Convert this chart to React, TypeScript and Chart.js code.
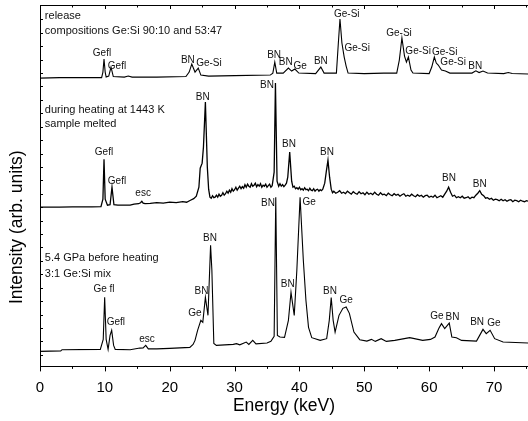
import React, { useEffect, useRef } from 'react';
import { Chart, registerables } from 'chart.js';

Chart.register(...registerables);

const FONT = '"Liberation Sans", Arial, Helvetica, sans-serif';

const X_MIN = 0;
const X_MAX = 75.24;
const Y_MIN = 0;
const Y_MAX = 361;

const OFFSET_BOTTOM = 15;
const OFFSET_MIDDLE = 159;
const OFFSET_TOP = 288;

const xTickValues = [0, 5, 10, 15, 20, 25, 30, 35, 40, 45, 50, 55, 60, 65, 70, 75];
const yTickStep = 13.4;
const yTitleText = 'Intensity (arb. units)';
const yTitleLevel = 139;

// Bottom spectrum: 5.4 GPa before heating, 3:1 Ge:Si mix
const bottomEnergy = [0, 3.2, 3.4, 9.3, 9.75, 9.97, 10.2, 10.5, 10.8, 11.05, 11.35, 11.6, 13.9, 15.4, 15.9, 16.3, 16.7, 18, 20, 23.1, 23.6, 23.9, 24.3, 24.8, 25.1, 25.5, 25.9, 26.3, 26.5, 26.8, 27.2, 29.8, 30.3, 30.8, 31.8, 32.2, 32.8, 33.3, 35, 35.6, 36.1, 36.35, 36.6, 37, 37.7, 38.3, 38.7, 39.2, 39.6, 40.1, 40.6, 41.0, 41.4, 41.9, 43.2, 44.2, 44.6, 44.9, 45.2, 45.5, 46.1, 46.7, 47.2, 47.7, 48.4, 49.3, 50.4, 51.1, 51.7, 52.6, 53.4, 54.7, 57, 59, 60.2, 60.9, 61.5, 61.9, 62.4, 63.1, 63.5, 64.2, 65, 67.3, 68.3, 68.8, 69.4, 70.1, 71.4, 75.3];
const bottomIntensity = [0, 0.5, 1.7, 2, 12, 54, 12, 2, 16, 21, 6, 2, 1.7, 3.3, 3.5, 6, 2.5, 2.5, 3, 4, 7, 11, 21, 31, 29, 54, 36, 106, 81, 8, 6, 7, 7.7, 6.5, 9.3, 7, 11, 7.5, 8.3, 10, 15, 154, 16, 14.3, 14, 31, 59, 36, 81, 154, 91, 51, 24, 13.7, 11, 12.7, 31, 53.7, 31, 19.3, 36, 43, 44.3, 38, 19.3, 11.7, 10.3, 12, 10, 12.7, 10, 11, 13.7, 11, 12, 14.3, 23, 27.7, 22.7, 28.3, 14.3, 13.7, 11, 10.3, 22, 17.7, 21, 12.7, 9.3, 8.3];

// Middle spectrum: during heating at 1443 K, sample melted
const middleEnergy = [0, 3, 5, 8, 9.4, 9.7, 9.87, 10.05, 10.4, 10.8, 11.1, 11.4, 12, 13.9, 14.5, 15.2, 15.5, 15.7, 15.9, 16.2, 17, 18, 19, 20, 21, 22, 22.6, 23.2, 23.7, 24.1, 24.5, 24.7, 25.0, 25.2, 25.5, 25.8, 26.0, 26.2,
  26.4, 26.6, 26.8, 27.0, 27.2, 27.4, 27.6, 27.8, 28.0, 28.2, 28.4, 28.6, 28.8, 29.0, 29.2, 29.4, 29.6, 29.8, 30.0, 30.2, 30.4, 30.6, 30.8, 31.0, 31.2, 31.4, 31.6, 31.8, 32.0, 32.2, 32.4, 32.6, 32.8, 33.0, 33.2, 33.4, 33.6, 33.8, 34.0, 34.2, 34.4, 34.6, 34.8, 35.0, 35.2, 35.4, 35.6, 35.8,
  36.1, 36.3, 36.55, 36.8, 37.0, 37.2, 37.4, 37.6, 37.8, 38.0, 38.2, 38.5, 38.8, 39.0, 39.2, 39.4, 39.6, 39.8, 40.0, 40.2, 40.4, 40.6, 40.8, 41.0, 41.2, 41.4, 41.6, 41.8, 42.0, 42.2, 42.4, 42.6, 42.8, 43.0, 43.2, 43.4, 43.6, 43.9, 44.15, 44.4, 44.65, 44.9, 45.1,
  45.3, 45.6, 45.9, 46.2, 46.5, 46.8, 47.1, 47.4, 47.7, 48.0, 48.3, 48.6, 48.9, 49.2, 49.5, 49.8, 50.1, 50.4, 50.7, 51.0, 51.3, 51.6, 51.9, 52.2, 52.5, 52.8, 53.1, 53.4, 53.7, 54.0, 54.3, 54.6, 54.9, 55.2, 55.5, 55.8, 56.1, 56.4, 56.7, 57.0, 57.3, 57.6, 57.9, 58.2, 58.5, 58.8, 59.1, 59.4, 59.7, 60.0, 60.3, 60.6, 60.9, 61.2, 61.5, 61.8, 62.1, 62.4, 62.7, 63.0, 63.3, 63.6, 63.9, 64.2, 64.5, 64.8, 65.1, 65.4, 65.7, 66.0, 66.3, 66.6, 66.9, 67.2, 67.5, 67.8, 68.1, 68.4, 68.7, 69.0, 69.3, 69.6, 69.9, 70.2, 70.5, 70.8, 71.1, 71.4, 71.7, 72.0, 72.3, 72.6, 72.9, 73.2, 73.5, 73.8, 74.1, 74.4, 74.7, 75.0, 75.3];
const middleIntensity = [0, 0, 0.3, 0.3, 0.5, 8, 48, 8, 2, 2.5, 20, 2.5, 2, 2, 3, 3.5, 4.5, 6, 4, 3.5, 3.8, 4.5, 4, 5, 4.5, 5.5, 5, 7, 8.5, 11, 20, 39, 44, 60, 105, 40, 18, 10,
  9, 11.5, 9.5, 10, 12, 10, 13, 11, 12, 14.5, 12, 13.5, 16, 14, 17, 15, 18.5, 16, 17.5, 20, 17, 19, 21, 18.5, 20.5, 19, 22.5, 20, 23, 21, 20, 23.5, 21, 22, 24, 20.5, 22.5, 21, 23.5, 20, 22, 21, 23, 20, 21.5, 23, 20, 21.5,
  35, 124, 26, 21, 23.5, 21, 22.5, 20.5, 22, 24, 30, 55, 26, 20, 21, 18.5, 19.5, 18, 20, 17.5, 18.5, 17, 19.5, 17.5, 18, 16.5, 19, 17, 16.5, 18.5, 16, 17.5, 18, 16, 17.5, 16.5, 18, 24, 36, 47, 30, 18, 14.5,
  16, 14, 15, 16.5, 14, 15, 13.5, 16, 14.5, 13, 15.5, 14, 13, 15.5, 13.5, 14.5, 12.5, 15, 13, 14, 12.5, 15, 13, 12, 14.5, 12.5, 13, 11.5, 14, 12.5, 11.5, 13.5, 12, 13, 11, 12.5, 13.5, 11, 12, 11, 13, 11.5, 10.5, 12.5, 11, 12, 10, 11.5, 12, 10, 11, 10, 12, 9.5, 10.5, 11.5, 10, 13, 16, 20, 15, 11, 12, 9.5, 10.5, 9.5, 11, 9, 9.5, 10.5, 8.5, 10, 9.5, 12, 14, 16.5, 13, 11.5, 9, 9.5, 8, 9, 7, 8, 7.5, 6.5, 8, 6.5, 7.5, 6, 7, 7.5, 5.5, 7, 6.5, 5.5, 7, 6, 5.5, 6.5, 6];

// Top spectrum: release, compositions Ge:Si 90:10 and 53:47
const topEnergy = [0, 3, 9.5, 9.7, 9.87, 10.05, 10.2, 10.6, 10.95, 11.3, 13, 13.6, 14.2, 18, 22.5, 23.0, 23.4, 23.9, 24.4, 24.8, 26, 30, 35.5, 35.9, 36.2, 36.5, 37.5, 38.3, 38.8, 39.3, 39.9, 42.5, 43.3, 43.8, 45.7, 46.0, 46.25, 46.55, 46.9, 47.2, 47.5, 50, 53, 55, 55.4, 55.8, 56.2, 56.5, 56.8, 57.2, 57.5, 60, 60.4, 60.8, 61.1, 61.4, 61.9, 62.5, 63.2, 66.6, 67.2, 67.7, 68.3, 69, 71.5, 72.2, 72.8, 75.3];
const topIntensity = [0, 0.5, 0.5, 6, 19, 6, 1, 2, 11, 1.5, 1, 2, 1, 1, 1.5, 6, 14, 6, 10, 3, 2, 2.5, 3, 5, 16, 5, 5, 10, 7, 9, 5, 4.5, 11, 5, 5, 35, 59, 35, 21, 12, 5, 4.5, 5, 5, 18, 40, 22, 16, 21, 8, 5, 4.5, 11, 21, 15, 13, 8, 7, 5, 5, 7.3, 5.5, 7, 5, 4.5, 5.5, 4.5, 4];

// Peak annotations (energy in keV, level in the stacked intensity units)
const peakLabels = ['Gefl', 'Gefl', 'BN', 'Ge-Si', 'BN', 'BN', 'Ge', 'BN', 'Ge-Si', 'Ge-Si', 'Ge-Si', 'Ge-Si', 'Ge-Si', 'Ge-Si', 'BN',
  'Gefl', 'Gefl', 'esc', 'BN', 'BN', 'BN', 'BN', 'BN', 'BN',
  'Ge fl', 'Gefl', 'esc', 'Ge', 'BN', 'BN', 'BN', 'BN', 'Ge', 'BN', 'Ge', 'Ge', 'BN', 'BN', 'Ge'];
const peakLabelEnergy = [9.56, 11.87, 22.8, 26.05, 36.1, 37.9, 40.1, 43.3, 47.3, 48.9, 55.35, 58.3, 62.4, 63.7, 67.1,
  9.87, 11.87, 15.9, 25.1, 35.0, 38.4, 44.25, 63.06, 67.8,
  9.87, 11.7, 16.5, 23.9, 24.9, 26.2, 35.15, 38.2, 41.5, 44.7, 47.2, 61.2, 63.6, 67.4, 70.0];
const peakLabelLevel = [313, 300, 306, 303, 311, 304, 300, 305, 352, 318, 333, 315, 314, 304, 300,
  214, 185, 173, 269, 281, 222, 214, 188, 182,
  77, 44, 27, 53, 75, 128, 163, 82, 164, 75, 66, 50, 49, 44, 43];

const noteLines = ['release', 'compositions Ge:Si 90:10 and 53:47', 'during heating at 1443 K', 'sample melted', '5.4 GPa before heating', '3:1 Ge:Si mix'];
const noteLevel = [350, 335, 256, 242, 108, 92];
const noteEnergy = 0.75;

function stack(energy: number[], intensity: number[], offset: number) {
  return energy.map((e, i) => ({ x: e, y: intensity[i] + offset }));
}

const decorations = {
  id: 'decorations',
  afterDatasetsDraw(chart: any) {
    const { ctx, chartArea, scales } = chart;
    const xs = scales.x;
    const ys = scales.y;
    ctx.save();
    ctx.strokeStyle = '#000';
    ctx.lineWidth = 1;
    // top frame
    ctx.beginPath();
    ctx.moveTo(chartArea.left, Math.round(chartArea.top) + 0.5);
    ctx.lineTo(chartArea.right, Math.round(chartArea.top) + 0.5);
    ctx.stroke();
    // x ticks: outward at bottom, inward at top
    for (const t of xTickValues) {
      const px = Math.round(xs.getPixelForValue(t)) + 0.5;
      const major = t % 10 === 0;
      ctx.beginPath();
      ctx.moveTo(px, chartArea.bottom);
      ctx.lineTo(px, chartArea.bottom + (major ? 5 : 2.5));
      ctx.moveTo(px, chartArea.top);
      ctx.lineTo(px, chartArea.top + (major ? 4 : 2.5));
      ctx.stroke();
    }
    // y ticks inward
    for (let k = -20; k <= 20; k++) {
      const v = OFFSET_MIDDLE + k * yTickStep;
      if (v < Y_MIN + 2 || v > Y_MAX - 2) continue;
      const py = Math.round(ys.getPixelForValue(v)) + 0.5;
      ctx.beginPath();
      ctx.moveTo(chartArea.left, py);
      ctx.lineTo(chartArea.left + 3, py);
      ctx.stroke();
    }
    // y axis title (placed as in the reference, below the axis centre)
    ctx.fillStyle = '#000';
    ctx.font = `17.5px ${FONT}`;
    ctx.textAlign = 'center';
    ctx.textBaseline = 'middle';
    ctx.save();
    ctx.translate(17, ys.getPixelForValue(yTitleLevel));
    ctx.rotate(-Math.PI / 2);
    ctx.fillText(yTitleText, 0, 0);
    ctx.restore();
    // peak labels
    ctx.fillStyle = '#111';
    ctx.font = `10px ${FONT}`;
    ctx.textAlign = 'center';
    ctx.textBaseline = 'middle';
    peakLabels.forEach((txt, i) => {
      ctx.fillText(txt, xs.getPixelForValue(peakLabelEnergy[i]), ys.getPixelForValue(peakLabelLevel[i]));
    });
    // notes
    ctx.font = `11px ${FONT}`;
    ctx.textAlign = 'left';
    noteLines.forEach((txt, i) => {
      ctx.fillText(txt, xs.getPixelForValue(noteEnergy), ys.getPixelForValue(noteLevel[i]));
    });
    ctx.restore();
  },
};

export default function App() {
  const canvasRef = useRef<HTMLCanvasElement | null>(null);

  useEffect(() => {
    const canvas = canvasRef.current;
    if (!canvas) return;
    const lineStyle = {
      borderColor: '#000',
      borderWidth: 1.1,
      pointRadius: 0,
      tension: 0,
      fill: false,
    };
    const chart = new Chart(canvas, {
      type: 'line',
      data: {
        datasets: [
          { label: '5.4 GPa before heating', data: stack(bottomEnergy, bottomIntensity, OFFSET_BOTTOM), ...lineStyle },
          { label: 'during heating at 1443 K', data: stack(middleEnergy, middleIntensity, OFFSET_MIDDLE), ...lineStyle, borderWidth: 1.3 },
          { label: 'release', data: stack(topEnergy, topIntensity, OFFSET_TOP), ...lineStyle },
        ],
      },
      options: {
        animation: false,
        responsive: false,
        layout: { padding: { top: 5, left: 0, right: 0, bottom: 0 }, autoPadding: false },
        plugins: {
          legend: { display: false },
          tooltip: { enabled: false },
        },
        scales: {
          x: {
            type: 'linear',
            min: X_MIN,
            max: X_MAX,
            afterBuildTicks: (scale: any) => {
              scale.ticks = xTickValues.map((v) => ({ value: v }));
            },
            afterFit: (scale: any) => {
              scale.height = 54.6;
              scale.paddingLeft = 0;
              scale.paddingRight = 0;
            },
            ticks: {
              autoSkip: false,
              maxRotation: 0,
              padding: 9,
              color: '#000',
              font: { family: FONT, size: 15, lineHeight: 1.0 },
              callback: (v: any) => (Number(v) % 10 === 0 ? String(v) : ''),
            },
            grid: { display: true, drawOnChartArea: false, drawTicks: true, tickLength: 5, color: 'rgba(0,0,0,0)' },
            border: { display: true, color: '#000', width: 1 },
            title: {
              display: true,
              text: 'Energy (keV)',
              color: '#000',
              font: { family: FONT, size: 17.5, lineHeight: 1.0 },
              padding: { top: 0, bottom: 6 },
            },
          },
          y: {
            type: 'linear',
            min: Y_MIN,
            max: Y_MAX,
            afterFit: (scale: any) => {
              scale.width = 40;
              scale.paddingTop = 0;
              scale.paddingBottom = 0;
            },
            ticks: { display: false },
            grid: { display: false, drawTicks: false },
            border: { display: true, color: '#000', width: 1 },
            title: {
              display: true,
              text: yTitleText,
              color: 'rgba(0,0,0,0)',
              font: { family: FONT, size: 17.5, lineHeight: 1.2 },
              padding: { top: 6, bottom: 13 },
            },
          },
        },
      },
      plugins: [decorations],
    });
    return () => chart.destroy();
  }, []);

  return (
    <div style={{ position: 'fixed', left: 0, top: 0, width: 528, height: 421, background: '#fff' }}>
      <canvas ref={canvasRef} width={528} height={421} style={{ display: 'block' }} />
    </div>
  );
}
